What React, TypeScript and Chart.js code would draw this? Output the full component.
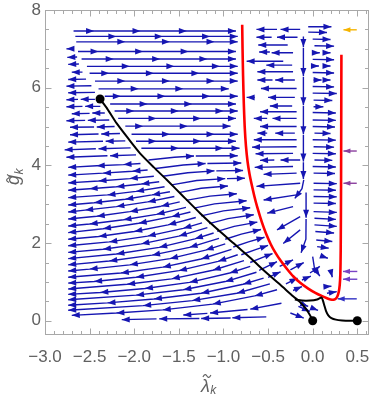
import React, { useEffect, useRef } from 'react';
import { Chart, registerables } from 'chart.js';

Chart.register(...registerables);

// ---- axis ranges and ticks ----
const X_MIN = -3.0;
const X_MAX = 0.62;
const Y_MIN = -0.34;
const Y_MAX = 8.0;
const xTickValues = [-3.0, -2.9, -2.8, -2.7, -2.6, -2.5, -2.4, -2.3, -2.2, -2.1, -2.0, -1.9, -1.8, -1.7, -1.6, -1.5, -1.4, -1.3, -1.2, -1.1, -1.0, -0.9, -0.8, -0.7, -0.6, -0.5, -0.4, -0.3, -0.2, -0.1, 0.0, 0.1, 0.2, 0.3, 0.4, 0.5, 0.6];
const yTickValues = [0, 0.5, 1, 1.5, 2, 2.5, 3, 3.5, 4, 4.5, 5, 5.5, 6, 6.5, 7, 7.5, 8];

// ---- red separatrix ----
const redLambda = [-0.790, -0.786, -0.780, -0.772, -0.762, -0.748, -0.730, -0.708, -0.683, -0.655, -0.622, -0.585, -0.553, -0.515, -0.47, -0.42, -0.36, -0.29, -0.216, -0.14, -0.05, 0.03, 0.10, 0.16, 0.20, 0.23, 0.255, 0.275, 0.292, 0.303, 0.31, 0.314, 0.318, 0.322];
const redG = [7.62, 7.0, 6.3, 5.6, 5.0, 4.5, 4.1, 3.78, 3.5, 3.22, 2.93, 2.65, 2.43, 2.2, 1.97, 1.76, 1.55, 1.34, 1.14, 0.98, 0.83, 0.72, 0.64, 0.58, 0.55, 0.54, 0.56, 0.62, 0.74, 0.92, 1.2, 1.8, 3.5, 6.85];

// ---- black trajectories ----
const blackLambda = [-2.383, -2.30, -2.196, -2.07, -1.935, -1.78, -1.636, -1.45, -1.262, -1.08, -0.889, -0.70, -0.515, -0.36, -0.216, -0.15, -0.09, -0.05, -0.02, 0];
const blackG = [5.71, 5.45, 5.08, 4.70, 4.31, 3.95, 3.63, 3.20, 2.77, 2.38, 2.0, 1.62, 1.23, 0.92, 0.625, 0.50, 0.35, 0.22, 0.10, 0];
const branchLambda = [-0.20, -0.12, -0.03, 0.05, 0.10, 0.115, 0.13, 0.15, 0.175, 0.21, 0.26, 0.33, 0.42, 0.5];
const branchG = [0.55, 0.52, 0.52, 0.55, 0.60, 0.52, 0.40, 0.25, 0.14, 0.07, 0.03, 0.01, 0.0, 0.0];
const fixedLambda = [-2.383, 0, 0.5];
const fixedG = [5.71, 0, 0];

// ---- blue stream rows (rightward): [g, lambdaStart, head1, head2, ...] ----
const rowsRight: number[][] = [
  [7.46, -2.68, -2.45, -1.93, -1.41, -0.86],
  [7.32, -2.66, -2.20, -1.68, -1.15, -0.84],
  [7.18, -2.65, -2.10, -1.60, -1.10, -0.84],
  [6.93, -2.63, -2.40, -1.90, -1.39, -0.86],
  [6.74, -2.59, -2.23, -1.71, -1.18, -0.86],
  [6.55, -2.53, -2.05, -1.55, -1.04, -0.84],
  [6.37, -2.50, -2.28, -1.78, -1.27, -0.84],
  [6.17, -2.44, -2.10, -1.60, -1.10, -0.84],
  [5.97, -2.40, -1.95, -1.45, -0.94],
  [5.78, -2.33, -2.15, -1.65, -1.15, -0.84],
  [5.58, -2.27, -1.85, -1.35, -0.86],
  [5.40, -2.22, -2.00, -1.50, -1.00, -0.84],
  [5.21, -2.18, -1.75, -1.25, -0.86],
  [5.01, -2.10, -1.90, -1.40, -0.92],
  [4.80, -2.03, -1.60, -1.10, -0.84],
  [4.62, -1.98, -1.75, -1.25, -0.86],
  [4.44, -1.92, -1.50, -1.00, -0.82],
];

// ---- fan of leftward streams left of the black line: headed polylines (a head at every vertex after the first) ----
const leftFan: number[][] = [
  [-1.93, 4.05, -2.12, 4.02, -2.42, 3.99, -2.74, 3.95],
  [-1.85, 3.88, -2.02, 3.85, -2.35, 3.80, -2.74, 3.75],
  [-1.78, 3.72, -2.05, 3.66, -2.40, 3.60, -2.74, 3.55],
  [-1.72, 3.58, -1.92, 3.52, -2.20, 3.45, -2.50, 3.40, -2.74, 3.36],
  [-1.66, 3.45, -1.98, 3.33, -2.30, 3.24, -2.74, 3.17],
  [-1.60, 3.32, -1.80, 3.24, -2.10, 3.13, -2.45, 3.04, -2.74, 2.98],
  [-1.55, 3.20, -1.85, 3.06, -2.20, 2.94, -2.55, 2.85, -2.74, 2.80],
  [-1.49, 3.06, -1.70, 2.95, -2.05, 2.81, -2.42, 2.69, -2.74, 2.62],
  [-1.42, 2.92, -1.75, 2.74, -2.12, 2.60, -2.50, 2.49, -2.74, 2.44],
  [-1.37, 2.80, -1.58, 2.68, -1.95, 2.51, -2.35, 2.37, -2.74, 2.27],
  [-1.31, 2.66, -1.62, 2.47, -2.00, 2.30, -2.40, 2.17, -2.74, 2.10],
  [-1.24, 2.52, -1.45, 2.38, -1.85, 2.18, -2.28, 2.03, -2.74, 1.93],
  [-1.18, 2.40, -1.50, 2.18, -1.92, 1.98, -2.35, 1.84, -2.74, 1.76],
  [-1.11, 2.26, -1.32, 2.11, -1.72, 1.89, -2.20, 1.72, -2.74, 1.60],
  [-1.05, 2.12, -1.38, 1.89, -1.80, 1.69, -2.28, 1.54, -2.74, 1.44],
  [-0.98, 1.98, -1.20, 1.82, -1.60, 1.60, -2.05, 1.44, -2.50, 1.33, -2.74, 1.28],
  [-0.91, 1.84, -1.25, 1.59, -1.68, 1.38, -2.15, 1.23, -2.74, 1.12],
  [-0.84, 1.70, -1.06, 1.53, -1.50, 1.29, -1.98, 1.12, -2.45, 1.01, -2.74, 0.97],
  [-0.77, 1.55, -1.12, 1.30, -1.58, 1.08, -2.08, 0.94, -2.74, 0.82],
  [-0.70, 1.40, -0.93, 1.23, -1.38, 0.99, -1.88, 0.83, -2.38, 0.73, -2.74, 0.68],
  [-0.63, 1.25, -0.98, 1.01, -1.45, 0.80, -1.98, 0.66, -2.74, 0.54],
  [-0.55, 1.10, -0.78, 0.94, -1.25, 0.71, -1.78, 0.56, -2.30, 0.46, -2.74, 0.40],
  [-0.48, 0.95, -0.85, 0.71, -1.35, 0.52, -1.90, 0.39, -2.74, 0.27],
  [-0.40, 0.80, -0.65, 0.64, -1.12, 0.43, -1.68, 0.28, -2.20, 0.20, -2.70, 0.14],
];

// ---- blue streams as polylines [l0,g0,l1,g1,...], head at the end only ----
const curvedRight: number[][] = [
  [-1.84, 4.14, -1.55, 4.21, -1.33, 4.24], [-1.31, 4.24, -0.84, 4.25],
  [-1.76, 3.92, -1.45, 4.01, -1.20, 4.05], [-1.18, 4.05, -0.80, 4.06],
  [-1.68, 3.72, -1.40, 3.81, -1.10, 3.86], [-1.08, 3.86, -0.78, 3.87],
  [-1.58, 3.50, -1.30, 3.61, -0.98, 3.66], [-0.96, 3.66, -0.76, 3.67],
  [-1.50, 3.30, -1.25, 3.41, -0.95, 3.47],
  [-1.42, 3.10, -1.15, 3.21, -0.85, 3.27],
  [-1.33, 2.90, -1.10, 3.01, -0.74, 3.09],
  [-1.25, 2.70, -1.00, 2.83, -0.70, 2.91],
  [-1.16, 2.50, -0.95, 2.63, -0.66, 2.73],
  [-1.07, 2.30, -0.88, 2.43, -0.62, 2.54],
  [-0.98, 2.10, -0.80, 2.23, -0.58, 2.35],
  [-0.89, 1.90, -0.72, 2.03, -0.54, 2.15],
  [-0.80, 1.70, -0.64, 1.83, -0.50, 1.94],
  [-0.70, 1.50, -0.56, 1.63, -0.45, 1.73],
  [-0.60, 1.30, -0.48, 1.43, -0.40, 1.52],
];

const leftTop: number[][] = [
  [-2.68, 7.00, -2.76, 7.00],
  [-2.64, 6.79, -2.75, 6.78],
  [-2.62, 6.61, -2.74, 6.60],
  [-2.58, 6.40, -2.70, 6.40],
  [-2.54, 6.22, -2.74, 6.21],
  [-2.48, 6.05, -2.76, 6.04],
  [-2.44, 5.88, -2.74, 5.87],
  [-2.44, 5.70, -2.60, 5.70], [-2.63, 5.70, -2.76, 5.69],
  [-2.38, 5.52, -2.55, 5.52], [-2.58, 5.52, -2.76, 5.51],
  [-2.33, 5.35, -2.47, 5.35], [-2.50, 5.34, -2.70, 5.33],
  [-2.28, 5.17, -2.52, 5.16], [-2.55, 5.16, -2.76, 5.15],
  [-2.22, 5.00, -2.42, 4.99], [-2.45, 4.99, -2.72, 4.98],
  [-2.16, 4.82, -2.37, 4.81], [-2.40, 4.81, -2.72, 4.79],
  [-2.10, 4.63, -2.32, 4.62], [-2.35, 4.62, -2.74, 4.60],
  [-2.04, 4.45, -2.40, 4.43], [-2.43, 4.43, -2.78, 4.40],
  [-1.98, 4.27, -2.27, 4.25], [-2.30, 4.25, -2.76, 4.21],
];

const bottomLeft: number[][] = [
  [-1.75, 0.05, -2.14, 0.03], [-1.27, 0.06, -1.72, 0.05], [-0.92, 0.07, -1.25, 0.06], [-0.52, 0.10, -0.90, 0.08],
  [-0.35, 0.45, -0.70, 0.30], [-0.73, 0.29, -1.15, 0.20], [-1.18, 0.19, -1.45, 0.15],
];

const nearOrigin: number[][] = [
  [-0.25, 0.20, -0.10, 0.07],
  [-0.16, 0.37, -0.03, 0.24],
  [-0.14, 0.45, -0.05, 0.37],
  [-0.02, 0.34, 0.06, 0.27],
];

const belowRed: number[][] = [
  [-0.37, 1.40, -0.22, 1.57],
  [-0.25, 1.31, -0.10, 1.50],
  [-0.50, 1.12, -0.36, 1.26],
  [-0.22, 0.78, -0.12, 0.88],
  [-0.30, 0.95, -0.17, 1.10],
  [-0.03, 1.23, 0.08, 1.40],
  [-0.12, 1.05, -0.02, 1.15],
];

const insideU: number[][] = [
  [0.16, 0.71, 0.27, 0.75],
  [0.14, 0.88, 0.21, 0.89],
  [0.00, 1.65, 0.02, 1.35, 0.08, 1.15],
  [0.20, 1.30, 0.22, 1.12],
];

const rightColumn: number[][] = [
  [-0.05, 7.57, 0.21, 7.57], [-0.05, 7.43, 0.16, 7.42], [0.00, 7.25, 0.20, 7.24], [0.02, 7.08, 0.24, 7.07],
  [0.02, 6.90, 0.08, 6.90], [0.12, 6.90, 0.20, 6.90], [0.00, 6.73, 0.24, 6.72],
  [0.02, 6.56, 0.07, 6.56], [0.12, 6.56, 0.20, 6.56], [0.00, 6.39, 0.24, 6.38],
  [0.01, 6.20, 0.10, 6.20], [0.13, 6.20, 0.20, 6.20], [0.00, 6.03, 0.24, 6.02],
  [0.00, 5.86, 0.27, 5.85], [0.01, 5.68, 0.22, 5.67], [0.01, 5.51, 0.12, 5.51],
  [0.00, 5.36, 0.26, 5.35], [0.00, 5.17, 0.26, 5.16], [0.00, 5.00, 0.25, 4.99],
  [0.02, 4.83, 0.20, 4.82], [0.00, 4.66, 0.26, 4.65], [0.01, 4.48, 0.24, 4.47],
  [0.00, 4.31, 0.26, 4.30], [0.02, 4.14, 0.22, 4.13], [0.00, 3.97, 0.26, 3.96],
  [0.01, 3.80, 0.25, 3.79], [0.01, 3.54, 0.27, 3.53], [0.01, 3.37, 0.26, 3.36],
  [0.01, 3.20, 0.27, 3.19], [0.01, 3.03, 0.26, 3.02], [0.01, 2.81, 0.27, 2.79],
  [0.02, 2.64, 0.26, 2.61], [0.02, 2.47, 0.27, 2.43], [0.03, 2.30, 0.24, 2.26],
  [0.04, 2.08, 0.22, 2.04], [0.05, 1.91, 0.18, 1.87], [0.12, 1.65, 0.17, 1.61],
];

const middleLeft: number[][] = [
  [-0.14, 7.50, -0.36, 7.50], [-0.40, 7.50, -0.63, 7.50],
  [-0.17, 7.30, -0.40, 7.30], [-0.46, 7.30, -0.63, 7.30],
  [-0.28, 7.10, -0.61, 7.10],
  [-0.22, 6.90, -0.46, 6.90], [-0.48, 6.92, -0.60, 6.92],
  [-0.33, 6.68, -0.74, 6.68],
  [-0.23, 6.58, -0.52, 6.58],
  [-0.22, 6.41, -0.62, 6.41],
  [-0.20, 6.20, -0.42, 6.20], [-0.45, 6.20, -0.62, 6.20],
  [-0.18, 5.98, -0.58, 5.98],
  [-0.20, 5.75, -0.50, 5.75], [-0.65, 5.75, -0.74, 5.75],
  [-0.23, 5.53, -0.48, 5.53],
  [-0.18, 5.38, -0.59, 5.38],
  [-0.18, 5.21, -0.45, 5.21], [-0.51, 5.21, -0.66, 5.21],
  [-0.18, 5.00, -0.59, 5.00],
  [-0.20, 4.83, -0.42, 4.83], [-0.51, 4.83, -0.62, 4.83],
  [-0.18, 4.66, -0.66, 4.66],
  [-0.18, 4.48, -0.68, 4.47],
  [-0.22, 4.31, -0.64, 4.30],
  [-0.14, 4.14, -0.36, 4.14], [-0.43, 4.14, -0.59, 4.13],
  [-0.22, 3.97, -0.65, 3.95],
  [-0.18, 3.80, -0.55, 3.77],
  [-0.14, 3.54, -0.63, 3.46],
  [-0.18, 3.24, -0.55, 3.11],
  [-0.22, 2.94, -0.51, 2.77],
  [-0.14, 2.68, -0.40, 2.34],
  [-0.14, 2.34, -0.33, 1.99],
];

const downStream: number[][] = [
  [-0.104, 7.32, -0.104, 7.05],
  [-0.104, 7.03, -0.104, 6.30],
  [-0.104, 6.28, -0.104, 5.55],
  [-0.104, 5.53, -0.104, 4.80],
  [-0.104, 4.78, -0.104, 4.10],
  [-0.104, 4.08, -0.104, 3.65],
  [-0.10, 3.63, -0.12, 3.40, -0.20, 3.15],
  [-0.074, 3.30, -0.074, 2.65],
  [-0.074, 2.62, -0.076, 2.10, -0.13, 1.75],
];

// ---- coloured marker arrows at the right edge ----
const markerStart = [0.494, 0.494, 0.494, 0.50, 0.50, 0.494];
const markerEnd = [0.345, 0.345, 0.345, 0.34, 0.34, 0.28];
const markerG = [7.49, 4.37, 3.54, 1.27, 1.07, 0.565];
const markerColors = ['#f5b400', '#8a3f9e', '#8a3f9e', '#7a44c4', '#6a3fc6', '#3030c4'];

const BLUE = '#1616b2';
const GRAY_TEXT = '#606060';
const FRAME = '#a8a8a8';

function rowsToStreams(rows: number[][]): number[][] {
  const out: number[][] = [];
  rows.forEach((r) => {
    const g = r[0];
    let prev = r[1];
    for (let i = 2; i < r.length; i++) {
      out.push([prev, g, r[i], g]);
      prev = r[i];
    }
  });
  return out;
}

function polysToStreams(polys: number[][]): number[][] {
  const out: number[][] = [];
  polys.forEach((p) => {
    for (let i = 2; i < p.length; i += 2) out.push([p[i - 2], p[i - 1], p[i], p[i + 1]]);
  });
  return out;
}

function streamsToData(streams: number[][]) {
  const data: { x: number | null; y: number | null }[] = [];
  streams.forEach((s) => {
    for (let i = 0; i < s.length; i += 2) data.push({ x: s[i], y: s[i + 1] });
    data.push({ x: null, y: null });
  });
  return data;
}

export default function App() {
  const ref = useRef<HTMLCanvasElement | null>(null);

  useEffect(() => {
    if (!ref.current) return;
    const blueStreams = [
      ...rowsToStreams(rowsRight),
      ...polysToStreams(leftFan),
      ...curvedRight,
      ...leftTop,
      ...bottomLeft,
      ...nearOrigin,
      ...belowRed,
      ...insideU,
      ...rightColumn,
      ...middleLeft,
      ...downStream,
    ];

    const headSpecs: Record<number, { streams: number[][]; color: string; len: number; w: number }> = {};
    const datasets: any[] = [];

    datasets.push({
      label: 'fixed',
      type: 'scatter',
      data: fixedLambda.map((l, i) => ({ x: l, y: fixedG[i] })),
      pointRadius: 4.5,
      pointBackgroundColor: '#000',
      pointBorderWidth: 0,
      order: 0,
    });
    datasets.push({
      label: 'black',
      type: 'scatter',
      showLine: true,
      data: blackLambda.map((l, i) => ({ x: l, y: blackG[i] })),
      borderColor: '#000',
      borderWidth: 2,
      pointRadius: 0,
      tension: 0.2,
      order: 1,
    });
    datasets.push({
      label: 'branch',
      type: 'scatter',
      showLine: true,
      data: branchLambda.map((l, i) => ({ x: l, y: branchG[i] })),
      borderColor: '#000',
      borderWidth: 2,
      pointRadius: 0,
      tension: 0.2,
      order: 1,
    });
    datasets.push({
      label: 'red',
      type: 'scatter',
      showLine: true,
      data: redLambda.map((l, i) => ({ x: l, y: redG[i] })),
      borderColor: '#ff0000',
      borderWidth: 2.6,
      pointRadius: 0,
      tension: 0.2,
      order: 2,
    });
    markerG.forEach((g, i) => {
      const s = [[markerStart[i], g, markerEnd[i], g]];
      headSpecs[datasets.length] = { streams: s, color: markerColors[i], len: 7, w: 2.6 };
      datasets.push({
        label: 'marker' + i,
        type: 'scatter',
        showLine: true,
        spanGaps: false,
        data: streamsToData(s),
        borderColor: markerColors[i],
        borderWidth: 1.4,
        pointRadius: 0,
        order: 3,
      });
    });
    headSpecs[datasets.length] = { streams: blueStreams, color: BLUE, len: 8, w: 3.0 };
    datasets.push({
      label: 'streams',
      type: 'scatter',
      showLine: true,
      spanGaps: false,
      data: streamsToData(blueStreams),
      borderColor: BLUE,
      borderWidth: 1.4,
      pointRadius: 0,
      order: 10,
    });

    const plugin = {
      id: 'decor',
      afterDatasetDraw(chart: any, args: any) {
        const spec = headSpecs[args.index];
        if (!spec) return;
        const { ctx } = chart;
        const xs = chart.scales.x;
        const ys = chart.scales.y;
        const area = chart.chartArea;
        ctx.save();
        ctx.beginPath();
        ctx.rect(area.left, area.top, area.right - area.left, area.bottom - area.top);
        ctx.clip();
        ctx.fillStyle = spec.color;
        spec.streams.forEach((s) => {
          const n = s.length;
          const x1 = xs.getPixelForValue(s[n - 2]);
          const y1 = ys.getPixelForValue(s[n - 1]);
          const x0 = xs.getPixelForValue(s[n - 4]);
          const y0 = ys.getPixelForValue(s[n - 3]);
          let dx = x1 - x0;
          let dy = y1 - y0;
          const len = Math.hypot(dx, dy) || 1;
          dx /= len;
          dy /= len;
          const bx = x1 - dx * spec.len;
          const by = y1 - dy * spec.len;
          ctx.beginPath();
          ctx.moveTo(x1, y1);
          ctx.lineTo(bx - dy * spec.w, by + dx * spec.w);
          ctx.lineTo(bx + dy * spec.w, by - dx * spec.w);
          ctx.closePath();
          ctx.fill();
        });
        ctx.restore();
      },
      afterDraw(chart: any) {
        const { ctx } = chart;
        const a = chart.chartArea;
        const xs = chart.scales.x;
        const ys = chart.scales.y;
        const L = Math.round(a.left) + 0.5;
        const R = Math.round(a.right) + 0.5;
        const T = Math.round(a.top) + 0.5;
        const B = Math.round(a.bottom) + 0.5;
        ctx.save();
        ctx.strokeStyle = FRAME;
        ctx.lineWidth = 1;
        ctx.strokeRect(L, T, R - L, B - T);
        ctx.beginPath();
        xs.ticks.forEach((t: any) => {
          const v = t.value;
          const r = Math.round(v * 10);
          if (Math.abs(v * 10 - r) > 1e-6) return;
          const major = r % 5 === 0;
          const len = major ? 6 : 3.5;
          const px = Math.round(xs.getPixelForValue(v)) + 0.5;
          ctx.moveTo(px, B);
          ctx.lineTo(px, B - len);
          ctx.moveTo(px, T);
          ctx.lineTo(px, T + len);
        });
        ys.ticks.forEach((t: any) => {
          const v = t.value;
          const r = Math.round(v * 2);
          if (Math.abs(v * 2 - r) > 1e-6) return;
          const major = r % 4 === 0;
          const len = major ? 6 : 3.5;
          const py = Math.round(ys.getPixelForValue(v)) + 0.5;
          ctx.moveTo(L, py);
          ctx.lineTo(L + len, py);
          ctx.moveTo(R, py);
          ctx.lineTo(R - len, py);
        });
        ctx.stroke();

        // axis titles
        ctx.fillStyle = GRAY_TEXT;
        ctx.strokeStyle = GRAY_TEXT;
        ctx.lineWidth = 1.1;
        ctx.textBaseline = 'alphabetic';
        ctx.textAlign = 'left';
        const drawTilde = (cx: number, cy: number) => {
          ctx.beginPath();
          ctx.moveTo(cx - 4, cy + 1);
          ctx.bezierCurveTo(cx - 2.5, cy - 2, cx - 1, cy - 2, cx, cy);
          ctx.bezierCurveTo(cx + 1, cy + 2, cx + 2.5, cy + 2, cx + 4, cy - 1);
          ctx.stroke();
        };
        // x title
        ctx.font = 'italic 18px "Liberation Sans"';
        const lamX = 201;
        const wl = ctx.measureText('λ').width;
        ctx.fillText('λ', lamX, 392);
        drawTilde(lamX + wl / 2 + 1.5, 376);
        ctx.font = 'italic 12px "Liberation Sans"';
        ctx.fillText('k', lamX + wl + 0.5, 394);

        // y title
        ctx.save();
        ctx.translate(19, 176);
        ctx.rotate(-Math.PI / 2);
        ctx.font = 'italic 18px "Liberation Sans"';
        const wg = ctx.measureText('g').width;
        ctx.fillText('g', -9, 0);
        drawTilde(-9 + wg / 2 + 1.5, -11);
        ctx.font = 'italic 12px "Liberation Sans"';
        ctx.fillText('k', -9 + wg + 0.5, 4);
        ctx.restore();

        ctx.restore();
      },
    };

    const chart = new Chart(ref.current, {
      type: 'scatter',
      data: { datasets },
      options: {
        animation: false,
        responsive: false,
        devicePixelRatio: 1,
        layout: { padding: { top: 10, right: 6, left: 0, bottom: 0 } },
        plugins: { legend: { display: false }, tooltip: { enabled: false } },
        scales: {
          x: {
            type: 'linear',
            position: 'bottom',
            min: X_MIN,
            max: X_MAX,
            grid: { display: false, drawTicks: false },
            border: { display: false },
            afterBuildTicks: (s: any) => {
              s.ticks = xTickValues.map((v) => ({ value: v }));
            },
            ticks: {
              autoSkip: false,
              maxRotation: 0,
              minRotation: 0,
              padding: 13,
              color: GRAY_TEXT,
              font: { family: '"Liberation Sans"', size: 17 },
              callback: (value: any) => {
                const v = Number(value);
                const r = Math.round(v * 10);
                if (Math.abs(v * 10 - r) > 1e-6 || r % 5 !== 0) return '';
                return (r < 0 ? '\u2212' : '') + Math.abs(r / 10).toFixed(1);
              },
            },
            afterFit: (s: any) => {
              s.height = 61;
              s.paddingLeft = 0;
              s.paddingRight = 0;
            },
          },
          y: {
            type: 'linear',
            position: 'left',
            min: Y_MIN,
            max: Y_MAX,
            grid: { display: false, drawTicks: false },
            border: { display: false },
            afterBuildTicks: (s: any) => {
              s.ticks = yTickValues.map((v) => ({ value: v }));
            },
            ticks: {
              autoSkip: false,
              padding: 4,
              color: GRAY_TEXT,
              font: { family: '"Liberation Sans"', size: 17 },
              callback: (value: any) => {
                const v = Number(value);
                const r = Math.round(v * 2);
                if (Math.abs(v * 2 - r) > 1e-6 || r % 4 !== 0) return '';
                return String(r / 2);
              },
            },
            afterFit: (s: any) => {
              s.width = 45;
              s.paddingTop = 0;
              s.paddingBottom = 0;
            },
          },
        },
      },
      plugins: [plugin],
    } as any);

    return () => chart.destroy();
  }, []);

  return (
    <div style={{ position: 'absolute', left: 0, top: 0, width: 374, height: 395, background: '#fff' }}>
      <canvas ref={ref} width={374} height={395} style={{ display: 'block', width: 374, height: 395 }} />
    </div>
  );
}
